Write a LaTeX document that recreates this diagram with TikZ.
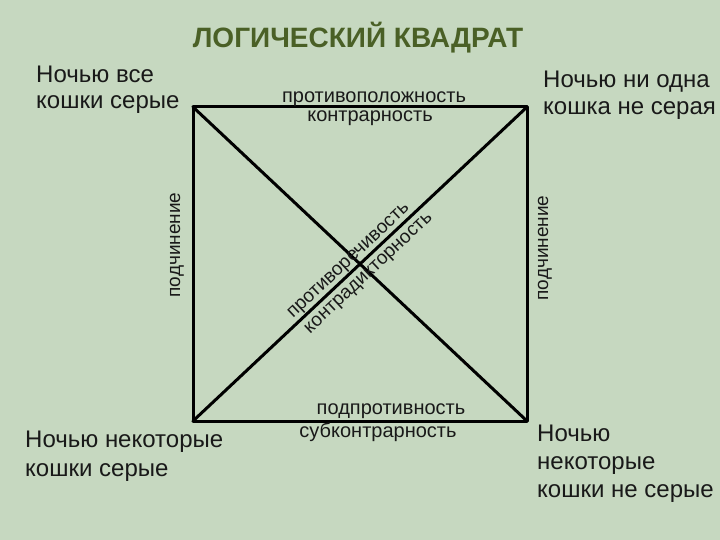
\documentclass[tikz,border=0pt]{standalone}
\usepackage{fontspec}
\setmainfont{Liberation Sans}
\usetikzlibrary{positioning}

\definecolor{bgsage}{RGB}{198,216,192}
\definecolor{titlegreen}{RGB}{74,96,38}

\begin{document}
\begin{tikzpicture}
	[x=1pt,y=-1pt,
	 side/.style={line width=3pt,line cap=round,line join=miter},
	 corner/.style={anchor=north west,inner sep=0pt,align=left,text=black!90},
	 rel/.style={inner sep=0pt,text=black!90,font=\fontsize{20}{23}\selectfont},
	 diag/.style={rel,font=\fontsize{19}{23}\selectfont,anchor=base,rotate=43.2}]
	\fill[bgsage] (0,0) rectangle (720,540);
	\useasboundingbox (0,0) rectangle (720,540);

	\node[anchor=base,inner sep=0pt,text=titlegreen,font=\bfseries\fontsize{28}{33}\selectfont] (title) at (358,48) {ЛОГИЧЕСКИЙ КВАДРАТ};

	% corners of the square
	\coordinate (a) at (193,107);
	\coordinate (e) at (527,107);
	\coordinate (i) at (193,421);
	\coordinate (o) at (527,421);

	\foreach \from/\to in {a/e,e/o,o/i,i/a,a/o,i/e}
		\draw[side] (\from) -- (\to);

	% statements
	\node[corner,font=\fontsize{24}{26}\selectfont] (A) at (36,66) {Ночью все\\кошки серые};
	\node[corner,font=\fontsize{24}{27}\selectfont] (E) at (543,71) {Ночью ни одна\\кошка не серая};
	\node[corner,font=\fontsize{24}{29}\selectfont] (I) at (25,431) {Ночью некоторые\\кошки серые};
	\node[corner,font=\fontsize{24}{28}\selectfont] (O) at (537,425) {Ночью\\некоторые\\кошки не серые};

	% relations
	\node[rel,anchor=base] (ae1) at (374,103) {противоположность};
	\node[rel,anchor=base] (ae2) at (370,122) {контрарность};
	\node[rel,anchor=base] (io1) at (391,414) {подпротивность};
	\node[rel,anchor=base] (io2) at (378,437) {субконтрарность};
	\node[rel,font=\fontsize{19}{23}\selectfont,rotate=90] (ai) at (177,245) {подчинение};
	\node[rel,font=\fontsize{19}{23}\selectfont,rotate=90] (eo) at (545,248) {подчинение};
	\node[diag] (ao1) at (351.5,263.7) {противоречивость};
	\node[diag] (ao2) at (371.6,276.4) {контрадикторность};
\end{tikzpicture}
\end{document}
